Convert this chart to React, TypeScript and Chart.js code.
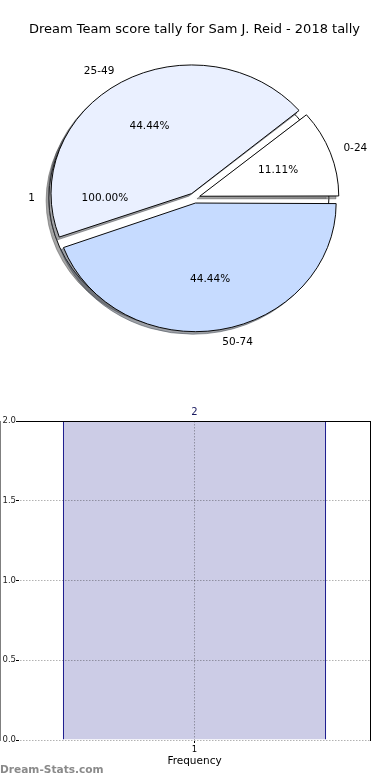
import React, { useEffect, useRef } from 'react';
import { Chart, registerables } from 'chart.js';

Chart.register(...registerables);

// ---------- data ----------
const TITLE = 'Dream Team score tally for Sam J. Reid - 2018 tally';
const pieLabels = ['0-24', '25-49', '50-74'];
const pieCounts = [1, 4, 4];
const pieColors = ['#ffffff', '#eaf0ff', '#c6dbff'];
const totalLabels = ['1'];
const totalCounts = [1];
const barCategories = ['1'];
const barValues = [2];
const yMin = 0;
const yMax = 2;
const yStep = 0.5;
const xAxisTitle = 'Frequency';
const watermark = 'Dream-Stats.com';

// ---------- style ----------
const FONT = '"DejaVu Sans", Verdana, sans-serif';
const KY = 128 / 140;
const EXPLODE = 22.4;
const SHADOW_D = 2.8;
const GRID = 'rgba(0,0,0,0.3)';

function hexToRgb(h: string) {
  const n = parseInt(h.slice(1), 16);
  return [(n >> 16) & 255, (n >> 8) & 255, n & 255];
}
function shadowColor(h: string) {
  const [r, g, b] = hexToRgb(h);
  return `rgba(${Math.round(r * 0.3)},${Math.round(g * 0.3)},${Math.round(b * 0.3)},0.5)`;
}

function geom(arc: any) {
  const p = arc.getProps(['x', 'y', 'startAngle', 'endAngle', 'outerRadius', 'circumference'], true);
  const off = (arc.options.offset || 0) / 4;
  const mid = (p.startAngle + p.endAngle) / 2;
  const fix = 1 - Math.sin(Math.min(Math.PI, p.circumference || 0));
  return {
    x: p.x + Math.cos(mid) * off,
    y: p.y + Math.sin(mid) * off,
    r: p.outerRadius + off * fix,
    start: p.startAngle,
    end: p.endAngle,
    mid,
    baseY: p.y,
    full: p.circumference >= Math.PI * 2 - 1e-9,
  };
}
const toScreenY = (g: any, y: number) => g.baseY + (y - g.baseY) * KY;

function ellipsePlugin(outline: boolean) {
  return {
    id: 'ellipse',
    beforeDatasetsDraw(chart: any) {
      const ctx = chart.ctx;
      const arcs = chart.getDatasetMeta(0).data;
      const cy = arcs.length ? arcs[0].y : chart.height / 2;
      ctx.save();
      ctx.translate(0, cy);
      ctx.scale(1, KY);
      ctx.translate(0, -cy);
      arcs.forEach((arc: any) => {
        const g = geom(arc);
        const col = shadowColor(arc.options.backgroundColor);
        ctx.beginPath();
        if (g.full) {
          ctx.arc(g.x - SHADOW_D, g.y + SHADOW_D, g.r, 0, Math.PI * 2);
        } else {
          ctx.moveTo(g.x - SHADOW_D, g.y + SHADOW_D);
          ctx.arc(g.x - SHADOW_D, g.y + SHADOW_D, g.r, g.start, g.end);
          ctx.closePath();
        }
        ctx.fillStyle = col;
        ctx.strokeStyle = col;
        ctx.lineWidth = 1;
        ctx.fill();
        ctx.stroke();
      });
    },
    afterDatasetsDraw(chart: any) {
      const ctx = chart.ctx;
      if (outline) {
        chart.getDatasetMeta(0).data.forEach((arc: any) => {
          const g = geom(arc);
          ctx.beginPath();
          ctx.arc(g.x, g.y, g.r, 0, Math.PI * 2);
          ctx.strokeStyle = '#000';
          ctx.lineWidth = 1;
          ctx.stroke();
        });
      }
      ctx.restore();
    },
  };
}

function labelsPlugin(getTotal: () => any) {
  return {
    id: 'pieLabels',
    afterDraw(chart: any) {
      const ctx = chart.ctx;
      ctx.save();
      ctx.fillStyle = '#000';
      ctx.textBaseline = 'middle';
      ctx.textAlign = 'center';
      ctx.font = `13px ${FONT}`;
      ctx.fillText(TITLE, 194.5, 30);
      const draw = (c: any) => {
        if (!c) return;
        const names = c.data.labels as string[];
        const values = c.data.datasets[0].data as number[];
        const total = values.reduce((a, b) => a + b, 0);
        c.getDatasetMeta(0).data.forEach((arc: any, i: number) => {
          const g = geom(arc);
          const cos = Math.cos(g.mid);
          const sin = Math.sin(g.mid);
          ctx.font = `10.5px ${FONT}`;
          const lx = g.x + 1.1 * g.r * cos;
          const ly = toScreenY(g, g.y + 1.1 * g.r * sin);
          ctx.textAlign = cos > 0 ? 'left' : 'right';
          ctx.fillText(names[i], lx, ly);
          const px = g.x + 0.6 * g.r * cos;
          const py = toScreenY(g, g.y + 0.6 * g.r * sin);
          ctx.textAlign = 'center';
          ctx.fillText(((values[i] / total) * 100).toFixed(2) + '%', px, py);
        });
      };
      draw(getTotal());
      draw(chart);
      ctx.restore();
    },
  };
}

const barDecor = {
  id: 'barDecor',
  afterDraw(chart: any) {
    const ctx = chart.ctx;
    const xs = chart.scales.x;
    const ys = chart.scales.y;
    const left = Math.round(xs.getPixelForDecimal(0));
    const right = Math.round(xs.getPixelForDecimal(1));
    const top = Math.round(ys.getPixelForValue(yMax));
    const bottom = Math.round(ys.getPixelForValue(yMin));
    ctx.save();
    // wipe a stray line Chart.js leaves at the very top of the canvas
    ctx.clearRect(0, 0, chart.width, 5);
    ctx.strokeStyle = '#000';
    ctx.lineWidth = 1;
    ctx.beginPath();
    ctx.moveTo(left, top + 0.5);
    ctx.lineTo(right + 1, top + 0.5);
    ctx.moveTo(right + 0.5, top);
    ctx.lineTo(right + 0.5, bottom + 1);
    ctx.stroke();
    chart.getDatasetMeta(0).data.forEach((bar: any, i: number) => {
      ctx.fillStyle = '#1a1a60';
      ctx.font = `10px ${FONT}`;
      ctx.textAlign = 'center';
      ctx.textBaseline = 'middle';
      ctx.fillText(String(barValues[i]), bar.x, bar.y - 9);
    });
    ctx.fillStyle = '#8a8a8a';
    ctx.font = `bold 10.6px ${FONT}`;
    ctx.textAlign = 'left';
    ctx.textBaseline = 'middle';
    ctx.fillText(watermark, 0, 370);
    ctx.restore();
  },
};

export default function App() {
  const totalRef = useRef<HTMLCanvasElement>(null);
  const pieRef = useRef<HTMLCanvasElement>(null);
  const barRef = useRef<HTMLCanvasElement>(null);

  useEffect(() => {
    const totalChart = new Chart(totalRef.current as HTMLCanvasElement, {
      type: 'pie',
      data: {
        labels: totalLabels,
        datasets: [
          {
            data: totalCounts,
            backgroundColor: totalCounts.map(() => '#ffffff'),
            borderWidth: 0,
            offset: EXPLODE,
          },
        ],
      },
      options: {
        responsive: false,
        animation: false,
        events: [],
        rotation: 90,
        radius: 134.4,
        layout: { padding: { right: 1 } },
        plugins: { legend: { display: false }, tooltip: { enabled: false } },
      } as any,
      plugins: [ellipsePlugin(true)],
    });

    const revLabels = [...pieLabels].reverse();
    const revCounts = [...pieCounts].reverse();
    const revColors = [...pieColors].reverse();
    const pieChart = new Chart(pieRef.current as HTMLCanvasElement, {
      type: 'pie',
      data: {
        labels: revLabels,
        datasets: [
          {
            data: revCounts,
            backgroundColor: revColors,
            borderColor: '#000',
            borderWidth: 1,
            offset: EXPLODE,
          },
        ],
      },
      options: {
        responsive: false,
        animation: false,
        events: [],
        rotation: 90,
        radius: 137,
        layout: { padding: { right: 1 } },
        plugins: { legend: { display: false }, tooltip: { enabled: false } },
      } as any,
      plugins: [ellipsePlugin(false), labelsPlugin(() => totalChart)],
    });

    const barChart = new Chart(barRef.current as HTMLCanvasElement, {
      type: 'bar',
      data: {
        labels: barCategories,
        datasets: [
          {
            data: barValues,
            backgroundColor: 'rgba(0,0,128,0.2)',
            borderColor: 'navy',
            borderWidth: 1,
            borderSkipped: 'start',
            barPercentage: 0.75,
            categoryPercentage: 1,
          },
        ],
      },
      options: {
        responsive: false,
        animation: false,
        events: [],
        layout: { padding: { top: 21, right: 20, left: 0, bottom: 0 } },
        plugins: { legend: { display: false }, tooltip: { enabled: false } },
        scales: {
          x: {
            type: 'category',
            offset: true,
            grid: {
              offset: false,
              z: 1,
              color: GRID,
              lineWidth: 1,
              tickLength: 3,
              tickColor: '#000',
            },
            border: { color: '#000', width: 1, dash: [1.5, 1.5] },
            ticks: { font: { family: FONT, size: 8.5 }, color: '#000', padding: 2 },
            title: {
              display: true,
              text: xAxisTitle,
              font: { family: FONT, size: 10.5 },
              color: '#000',
              padding: { top: 0, bottom: 12 },
            },
            afterFit: (s: any) => {
              s.height = 40;
            },
          },
          y: {
            min: yMin,
            max: yMax,
            grid: {
              z: 1,
              color: GRID,
              lineWidth: 1,
              tickLength: 3,
              tickColor: '#000',
            },
            border: { color: '#000', width: 1, dash: [1.5, 1.5] },
            ticks: {
              stepSize: yStep,
              font: { family: FONT, size: 8.5 },
              color: '#222',
              padding: 0,
              callback: (v: any) => Number(v).toFixed(1),
            },
            afterFit: (s: any) => {
              s.width = 19;
            },
          },
        },
      } as any,
      plugins: [barDecor],
    });

    return () => {
      pieChart.destroy();
      totalChart.destroy();
      barChart.destroy();
    };
  }, []);

  return (
    <div
      style={{
        position: 'absolute',
        left: 0,
        top: 0,
        width: 390,
        height: 780,
        background: '#fff',
        overflow: 'hidden',
      }}
    >
      <canvas
        ref={totalRef}
        width={390}
        height={396}
        style={{ position: 'absolute', left: 0, top: 0, width: 390, height: 396 }}
      />
      <canvas
        ref={pieRef}
        width={390}
        height={396}
        style={{ position: 'absolute', left: 0, top: 0, width: 390, height: 396 }}
      />
      <canvas
        ref={barRef}
        width={390}
        height={380}
        style={{ position: 'absolute', left: 0, top: 400, width: 390, height: 380 }}
      />
    </div>
  );
}
